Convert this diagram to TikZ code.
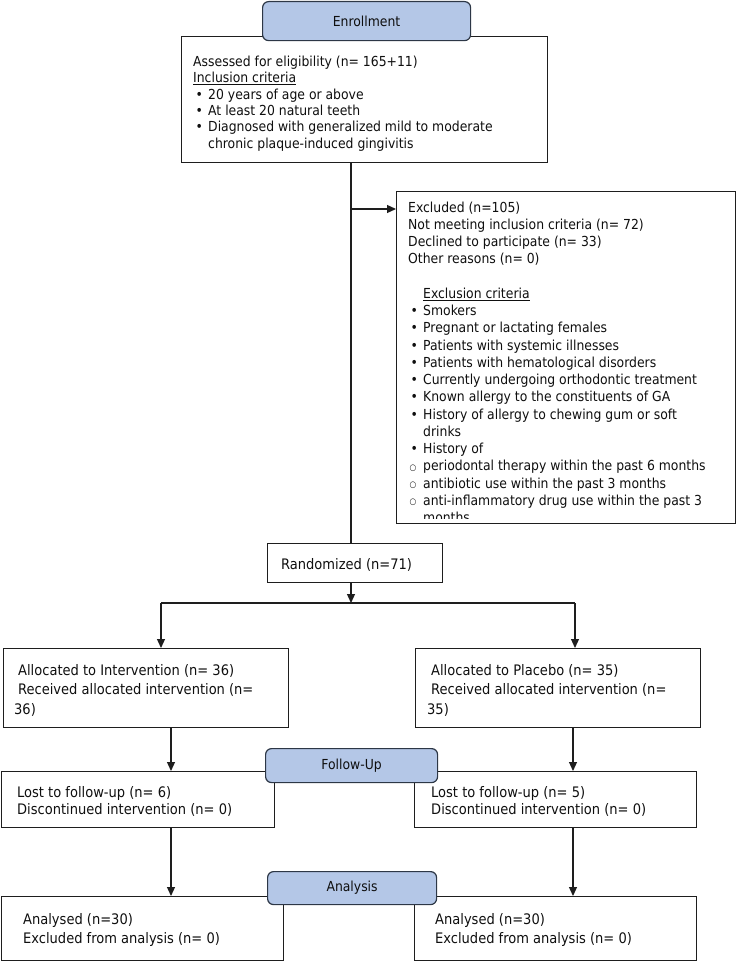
\documentclass[tikz,border=0pt]{standalone}
\usepackage{fontspec}
\setmainfont{DejaVu Sans Condensed}
\usetikzlibrary{arrows.meta}
\definecolor{phasefill}{RGB}{180,199,231}
\definecolor{phasedraw}{RGB}{45,55,70}
\definecolor{boxdraw}{RGB}{30,30,30}
\definecolor{inkc}{RGB}{15,15,15}
\newcommand\fszA{\fontsize{13.8}{16.4}\selectfont}
\newcommand\fszB{\fontsize{13.8}{17.24}\selectfont}
\newcommand\fszR{\fontsize{14.5}{17}\selectfont}
\newcommand\fszC{\fontsize{14.5}{19.5}\selectfont}
\newcommand\fszD{\fontsize{14.5}{17}\selectfont}
\newcommand\fszE{\fontsize{14.5}{19}\selectfont}
\newcommand\firstln{\rule{0pt}{12pt}}
\newcommand\bul{\makebox[15pt][l]{\hspace{2.5pt}•}}
\newcommand\cbul{\makebox[15pt][l]{\hspace{1.5pt}\raisebox{0.8pt}{\scalebox{0.62}{○}}}}
\newcommand\ind{\makebox[15pt]{}}
\newcommand\lead{\makebox[4pt]{}}
\begin{document}
\begin{tikzpicture}[x=1pt,y=-1pt,
  box/.style={draw=boxdraw, line width=1.2pt, inner sep=0pt, anchor=north west},
  phase/.style={draw=phasedraw, fill=phasefill, line width=1.2pt, rounded corners=6pt,
    inner sep=0pt, anchor=north west, font=\fszA, text=inkc},
  txt/.style={inner sep=0pt, anchor=north west, align=left, text=inkc},
  conn/.style={draw=boxdraw, line width=1.2pt},
  arr/.style={conn, -{Triangle[length=9pt,width=8pt]}}]
\useasboundingbox (0,0) rectangle (738,961);

% Enrollment
\node[box, minimum width=366pt, minimum height=126pt] (incl) at (181,36) {};
\node[phase, minimum width=208pt, minimum height=39pt] (enroll) at (262,1) {Enrollment};
\node[txt, font=\fszA] (incltxt) at (193,54) {\firstln Assessed for eligibility (n= 165+11)\\
\underline{Inclusion criteria}\\
\bul 20 years of age or above\\
\bul At least 20 natural teeth\\
\bul Diagnosed with generalized mild to moderate\\
\ind chronic plaque-induced gingivitis};

% Excluded
\node[box, minimum width=339pt, minimum height=332pt] (excl) at (396,191) {};
\begin{scope}
\clip (396,191) rectangle (735,518);
\node[txt, font=\fszB] (excltxt) at (408,200) {\firstln Excluded (n=105)\\
Not meeting inclusion criteria (n= 72)\\
Declined to participate (n= 33)\\
Other reasons (n= 0)\\
\mbox{}\\
\ind\underline{Exclusion criteria}\\
\bul Smokers\\
\bul Pregnant or lactating females\\
\bul Patients with systemic illnesses\\
\bul Patients with hematological disorders\\
\bul Currently undergoing orthodontic treatment\\
\bul Known allergy to the constituents of GA\\
\bul History of allergy to chewing gum or soft\\
\ind drinks\\
\bul History of\\
\cbul periodontal therapy within the past 6 months\\
\cbul antibiotic use within the past 3 months\\
\cbul anti-inflammatory drug use within the past 3\\
\ind months};
\end{scope}

% Randomized
\node[box, minimum width=175pt, minimum height=39pt] (rand) at (267,543) {};
\node[txt, font=\fszR] (randtxt) at (281,557) {\firstln Randomized (n=71)};

% Allocation
\node[box, minimum width=285pt, minimum height=79pt] (allocL) at (3,648) {};
\node[txt, font=\fszC] (allocLtxt) at (14,663) {\firstln\lead Allocated to Intervention (n= 36)\\
\lead Received allocated intervention (n=\\
36)};
\node[box, minimum width=285pt, minimum height=79pt] (allocR) at (415,648) {};
\node[txt, font=\fszC] (allocRtxt) at (427,663) {\firstln\lead Allocated to Placebo (n= 35)\\
\lead Received allocated intervention (n=\\
35)};

% Follow-up
\node[box, minimum width=273pt, minimum height=56pt] (lostL) at (1,771) {};
\node[txt, font=\fszD] (lostLtxt) at (17,785) {\firstln Lost to follow-up (n= 6)\\
Discontinued intervention (n= 0)};
\node[box, minimum width=282pt, minimum height=56pt] (lostR) at (414,771) {};
\node[txt, font=\fszD] (lostRtxt) at (431,785) {\firstln Lost to follow-up (n= 5)\\
Discontinued intervention (n= 0)};
\node[phase, minimum width=172pt, minimum height=34pt] (follow) at (265,748) {Follow-Up};

% Analysis
\node[box, minimum width=282pt, minimum height=64pt] (anaL) at (1,896) {};
\node[txt, font=\fszE] (anaLtxt) at (23,912) {\firstln Analysed (n=30)\\
Excluded from analysis (n= 0)};
\node[box, minimum width=282pt, minimum height=64pt] (anaR) at (414,896) {};
\node[txt, font=\fszE] (anaRtxt) at (435,912) {\firstln Analysed (n=30)\\
Excluded from analysis (n= 0)};
\node[phase, minimum width=169pt, minimum height=33pt] (analysis) at (267,871) {Analysis};

% connectors
\coordinate (trunk) at (351,209);
\coordinate (br) at (351,603);
\coordinate (bL) at (161,603);
\coordinate (bR) at (575,603);
\coordinate (lowL) at (171,0);
\coordinate (lowR) at (573,0);
\draw[conn] (incl.south -| trunk) -- (rand.north -| trunk);
\draw[arr] (trunk) -- (excl.west |- trunk);
\draw[arr] (rand.south -| br) -- (br);
\draw[conn] (bL) -- (bR);
\draw[arr] (bL) -- (allocL.north -| bL);
\draw[arr] (bR) -- (allocR.north -| bR);
\draw[arr] (allocL.south -| lowL) -- (lostL.north -| lowL);
\draw[arr] (allocR.south -| lowR) -- (lostR.north -| lowR);
\draw[arr] (lostL.south -| lowL) -- (anaL.north -| lowL);
\draw[arr] (lostR.south -| lowR) -- (anaR.north -| lowR);
\end{tikzpicture}
\end{document}
